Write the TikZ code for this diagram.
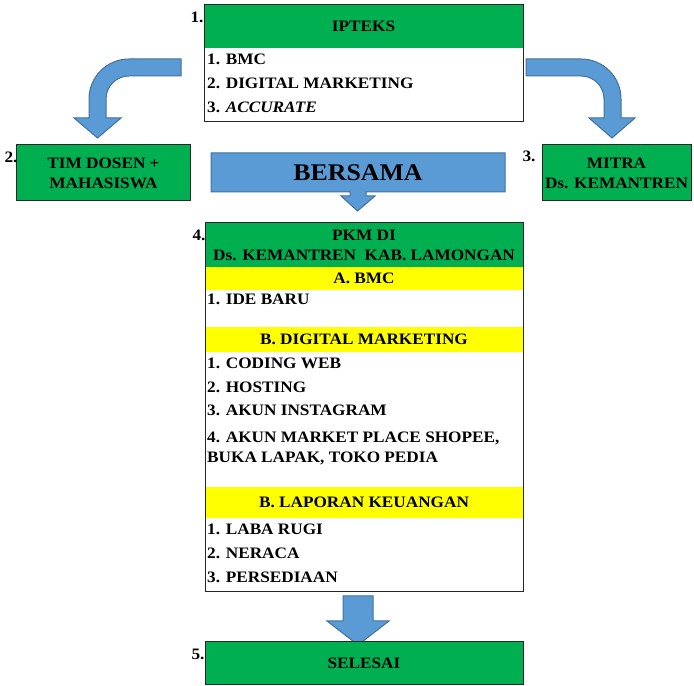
\documentclass[tikz,border=0pt]{standalone}
\usepackage{fontspec}
\setmainfont{Liberation Serif}[FakeStretch=1.08]
\definecolor{gr}{HTML}{00B050}
\definecolor{yl}{HTML}{FFFF00}
\definecolor{bl}{HTML}{5B9BD5}
\definecolor{bld}{HTML}{41719C}
\begin{document}
\begin{tikzpicture}[x=1bp,y=1bp,
  every node/.style={font=\fontsize{16}{20}\selectfont\bfseries, inner sep=0pt, align=center},
  frame/.style={draw=black!85, line width=1bp},
  gfill/.style={fill=gr},
  yfill/.style={fill=yl},
  item/.style={anchor=west, align=left},
  blarrow/.style={fill=bl, draw=bld, line width=1bp, line join=miter}]
\useasboundingbox (0,0) rectangle (694,686);

% 1. IPTEKS
\node[gfill, minimum width=319bp, minimum height=43bp] (iphead) at (363.5,659.5) {IPTEKS};
\node[frame, minimum width=319bp, minimum height=117bp] (ipteks) at (363.5,622.5) {};
\node[item] (ip1) at (207,627) {1. BMC};
\node[item] (ip2) at (207,603) {2. DIGITAL MARKETING};
\node[item] (ip3) at (207,579) {3. \textit{ACCURATE}};
\node (l1) at (197,669) {1.};

% curved arrows
\draw[blarrow] (181,627) -- (129,627) arc[start angle=90,end angle=180,radius=40bp]
  -- (89,568) -- (74,568) -- (97.5,548) -- (121,568) -- (106,568) -- (106,587)
  arc[start angle=180,end angle=90,radius=23bp] -- (181,610) -- cycle;
\draw[blarrow] (526,627) -- (581,627) arc[start angle=90,end angle=0,radius=40bp]
  -- (621,568) -- (635,568) -- (612,548) -- (589,568) -- (604,568) -- (604,587)
  arc[start angle=0,end angle=90,radius=23bp] -- (526,610) -- cycle;

% 2. TIM DOSEN
\node[frame, gfill, minimum width=173bp, minimum height=56bp] (tim) at (103.5,513) {TIM DOSEN +\\MAHASISWA};
\node (l2) at (11,529) {2.};

% 3. MITRA
\node[frame, gfill, minimum width=149bp, minimum height=56bp] (mitra) at (616.5,513) {MITRA\\Ds. KEMANTREN};
\node (l3) at (529,530) {3.};

% BERSAMA
\draw[blarrow] (211,533) -- (505,533) -- (505,494) -- (366,494) -- (366,490) -- (375,490)
  -- (357.5,475) -- (341,490) -- (350,490) -- (350,494) -- (211,494) -- cycle;
\node[font=\fontsize{24}{28}\selectfont\bfseries] (bersama) at (358,513) {BERSAMA};

% 4. PKM
\node[gfill, minimum width=318bp, minimum height=44bp] (pkmhead) at (364,441) {PKM DI\\Ds. KEMANTREN\ \ KAB. LAMONGAN};
\node[yfill, minimum width=318bp, minimum height=23bp] (secA) at (364,407.5) {A. BMC};
\node[yfill, minimum width=318bp, minimum height=25bp] (secB) at (364,346.5) {B. DIGITAL MARKETING};
\node[yfill, minimum width=318bp, minimum height=31bp] (secC) at (364,183.5) {B. LAPORAN KEUANGAN};
\node[frame, minimum width=318bp, minimum height=368bp] (pkm) at (364,279) {};
\node (l4) at (199,451) {4.};
\node[item] (a1) at (207,387) {1. IDE BARU};
\node[item] (b1) at (207,323) {1. CODING WEB};
\node[item] (b2) at (207,299) {2. HOSTING};
\node[item] (b3) at (207,276) {3. AKUN INSTAGRAM};
\node[item] (b4) at (207,238) {4. AKUN MARKET PLACE SHOPEE,\\BUKA LAPAK, TOKO PEDIA};
\node[item] (c1) at (207,157) {1. LABA RUGI};
\node[item] (c2) at (207,133) {2. NERACA};
\node[item] (c3) at (207,109) {3. PERSEDIAAN};

% bottom arrow
\draw[blarrow] (343,90) -- (373,90) -- (373,65) -- (389,65) -- (358,41) -- (327,65) -- (343,65) -- cycle;

% 5. SELESAI
\node[frame, gfill, minimum width=318bp, minimum height=42bp] (selesai) at (364,23) {SELESAI};
\node (l5) at (198,32) {5.};
\end{tikzpicture}
\end{document}
